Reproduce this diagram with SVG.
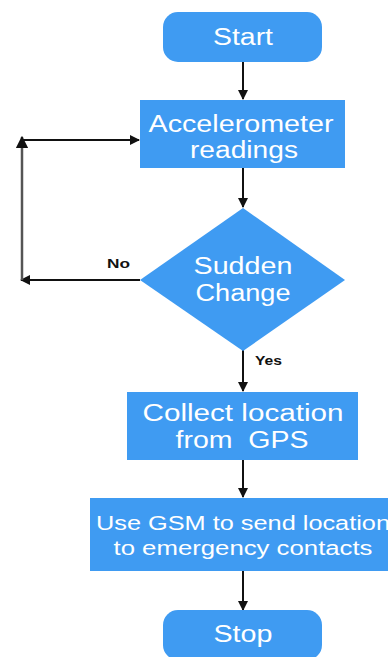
<svg xmlns="http://www.w3.org/2000/svg" width="388" height="657" viewBox="0 0 388 657">
<defs>
<style>
.n{fill:#3f9bf2}
.t{fill:#fff;font-family:"Liberation Sans",Arial,sans-serif;font-size:23px;text-anchor:middle;white-space:pre}
.l{fill:#111;font-family:"Liberation Sans",Arial,sans-serif;font-size:12px;font-weight:bold}
.c{stroke:#111;stroke-width:2;fill:none}
</style>
<marker id="a" viewBox="0 0 10 10" refX="9" refY="5" markerWidth="5" markerHeight="5" orient="auto" markerUnits="strokeWidth"><path d="M0,0L10,5L0,10z" fill="#111"/></marker>
</defs>
<rect width="388" height="657" fill="#fff"/>
<g id="connectors">
<line class="c" x1="243" y1="62" x2="243" y2="99" marker-end="url(#a)"/>
<line class="c" x1="243" y1="168" x2="243" y2="207" marker-end="url(#a)"/>
<line class="c" x1="140" y1="280" x2="21" y2="280" marker-end="url(#a)"/>
<line class="c" x1="22" y1="280" x2="22" y2="137" marker-end="url(#a)" style="stroke:#555;stroke-width:2.5"/>
<line class="c" x1="22" y1="140" x2="139" y2="140" marker-end="url(#a)"/>
<line class="c" x1="243" y1="350" x2="243" y2="391" marker-end="url(#a)"/>
<line class="c" x1="243" y1="460" x2="243" y2="497" marker-end="url(#a)"/>
<line class="c" x1="243" y1="571" x2="243" y2="610" marker-end="url(#a)"/>
<text class="l" x="107" y="268" textLength="23" lengthAdjust="spacingAndGlyphs">No</text>
<text class="l" x="255" y="365" textLength="27" lengthAdjust="spacingAndGlyphs">Yes</text>
</g>
<g id="start">
<rect class="n" x="163" y="12" width="159" height="50" rx="15"/>
<text class="t" x="243" y="45" textLength="60" lengthAdjust="spacingAndGlyphs">Start</text>
</g>
<g id="accel">
<rect class="n" x="140" y="100" width="205" height="68"/>
<text class="t" x="241" y="132" textLength="185" lengthAdjust="spacingAndGlyphs">Accelerometer</text>
<text class="t" x="244" y="158" textLength="108" lengthAdjust="spacingAndGlyphs">readings</text>
</g>
<g id="decision">
<polygon class="n" points="243,208 345,280 243,351 140,280"/>
<text class="t" x="243" y="274" textLength="99" lengthAdjust="spacingAndGlyphs">Sudden</text>
<text class="t" x="243" y="301" textLength="95" lengthAdjust="spacingAndGlyphs">Change</text>
</g>
<g id="collect">
<rect class="n" x="127" y="392" width="231" height="68"/>
<text class="t" x="243" y="421" textLength="201" lengthAdjust="spacingAndGlyphs">Collect location</text>
<text class="t" x="242" y="448" textLength="133" lengthAdjust="spacingAndGlyphs" xml:space="preserve">from  GPS</text>
</g>
<g id="gsm">
<rect class="n" x="90" y="498" width="300" height="73"/>
<text class="t" x="243" y="530" textLength="294" lengthAdjust="spacingAndGlyphs" style="font-size:20px">Use GSM to send location</text>
<text class="t" x="243" y="555" textLength="259" lengthAdjust="spacingAndGlyphs" style="font-size:20px">to emergency contacts</text>
</g>
<g id="stop">
<rect class="n" x="163" y="610" width="159" height="50" rx="15"/>
<text class="t" x="243" y="642" textLength="59" lengthAdjust="spacingAndGlyphs">Stop</text>
</g>
</svg>
